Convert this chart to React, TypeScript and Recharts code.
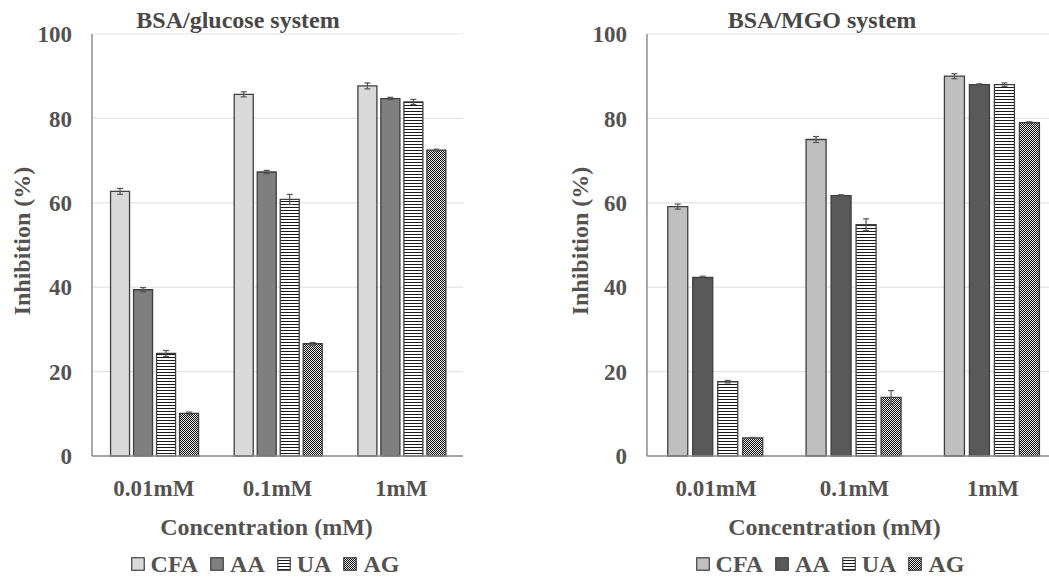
import { BarChart, Bar, XAxis, YAxis, CartesianGrid, ErrorBar, Label } from 'recharts';

const categories = ['0.01mM', '0.1mM', '1mM'];
const yTicks = [0, 20, 40, 60, 80, 100];
const seriesNames = ['CFA', 'AA', 'UA', 'AG'];

// BSA/glucose system
const glucoseCFA = [62.7, 85.7, 87.7];
const glucoseAA = [39.4, 67.3, 84.7];
const glucoseUA = [24.3, 60.8, 83.9];
const glucoseAG = [10.1, 26.6, 72.5];
const glucoseCFAErr = [0.7, 0.6, 0.7];
const glucoseAAErr = [0.5, 0.4, 0.3];
const glucoseUAErr = [0.7, 1.2, 0.6];
const glucoseAGErr = [0.3, 0.3, 0.2];

// BSA/MGO system
const mgoCFA = [59.1, 75.0, 90.0];
const mgoAA = [42.3, 61.7, 88.0];
const mgoUA = [17.6, 54.8, 88.0];
const mgoAG = [4.3, 13.9, 79.0];
const mgoCFAErr = [0.6, 0.7, 0.6];
const mgoAAErr = [0.3, 0.2, 0.2];
const mgoUAErr = [0.3, 1.4, 0.4];
const mgoAGErr = [0.1, 1.6, 0.2];

const FONT = '"Liberation Serif", "Times New Roman", serif';
const TEXT = '#555250';
const OUTLINE = '#3f3f3f';
const TICK_SIZE = 23;
const LABEL_SIZE = 24;

const buildRows = (vals: number[][], errs: number[][]) =>
  categories.map((c, i) => {
    const row: Record<string, string | number> = { cat: c };
    seriesNames.forEach((s, k) => {
      row[s] = vals[k][i];
      row[s + 'Err'] = errs[k][i];
    });
    return row;
  });

const glucoseRows = buildRows(
  [glucoseCFA, glucoseAA, glucoseUA, glucoseAG],
  [glucoseCFAErr, glucoseAAErr, glucoseUAErr, glucoseAGErr],
);
const mgoRows = buildRows(
  [mgoCFA, mgoAA, mgoUA, mgoAG],
  [mgoCFAErr, mgoAAErr, mgoUAErr, mgoAGErr],
);

const Patterns = () => (
  <svg width={0} height={0} style={{ position: 'absolute' }}>
    <defs>
      <pattern id="stripes" width={4} height={3} patternUnits="userSpaceOnUse">
        <rect width={4} height={3} fill="#fff" />
        <rect width={4} height={1} fill="#1a1a1a" />
      </pattern>
      <pattern id="checker" width={2} height={2} patternUnits="userSpaceOnUse">
        <rect width={2} height={2} fill="#e6e6e6" />
        <rect width={1} height={1} fill="#111" />
        <rect x={1} y={1} width={1} height={1} fill="#111" />
      </pattern>
    </defs>
  </svg>
);

type PanelProps = {
  rows: Record<string, string | number>[];
  fills: string[];
  width: number;
  yAxisWidth: number;
  barGap: number;
  labelX: number;
  xLabelDx: number;
};

const Panel = ({ rows, fills, width, yAxisWidth, barGap, labelX, xLabelDx }: PanelProps) => (
  <BarChart
    width={width}
    height={577}
    data={rows}
    margin={{ top: 34, right: 0, bottom: 0, left: 0 }}
    barCategoryGap="15%"
    barGap={barGap}
  >
    <CartesianGrid vertical={false} stroke="#e3e3e3" strokeWidth={1.2} />
    <XAxis
      dataKey="cat"
      height={121}
      tickLine={false}
      tickSize={0}
      tickMargin={24}
      axisLine={{ stroke: '#8c8c8c', strokeWidth: 1.5 }}
      tick={{ fill: TEXT, fontSize: TICK_SIZE, fontWeight: 700, fontFamily: FONT }}
    >
      <Label
        value="Concentration (mM)"
        position="insideBottom"
        offset={42}
        dx={xLabelDx}
        fill={TEXT}
        fontSize={LABEL_SIZE}
        fontWeight={700}
        fontFamily={FONT}
      />
    </XAxis>
    <YAxis
      width={yAxisWidth}
      domain={[0, 100]}
      ticks={yTicks}
      interval={0}
      tickLine={false}
      tickSize={0}
      tickMargin={20}
      axisLine={{ stroke: '#8c8c8c', strokeWidth: 1.5 }}
      tick={{ fill: TEXT, fontSize: TICK_SIZE, fontWeight: 700, fontFamily: FONT }}
    >
      <Label
        content={({ viewBox }: any) => (
          <text
            transform={`translate(${labelX}, ${(viewBox?.y ?? 0) + (viewBox?.height ?? 0) / 2 - 4}) rotate(-90)`}
            textAnchor="middle"
            fill={TEXT}
            fontSize={LABEL_SIZE}
            fontWeight={700}
            fontFamily={FONT}
          >
            Inhibition (%)
          </text>
        )}
      />
    </YAxis>
    {seriesNames.map((s, k) => (
      <Bar
        key={s}
        dataKey={s}
        fill={fills[k]}
        stroke={OUTLINE}
        strokeWidth={1.3}
        isAnimationActive={false}
      >
        <ErrorBar dataKey={s + 'Err'} width={3} stroke="#555" strokeWidth={1.2} />
      </Bar>
    ))}
  </BarChart>
);

const LegendRow = ({ fills, center }: { fills: string[]; center: number }) => (
  <div
    style={{
      position: 'absolute',
      left: center - 200,
      width: 400,
      top: 551,
      display: 'flex',
      justifyContent: 'center',
      alignItems: 'center',
      gap: 12,
      fontFamily: FONT,
      fontWeight: 700,
      fontSize: LABEL_SIZE,
      color: TEXT,
      lineHeight: '26px',
    }}
  >
    {seriesNames.map((s, k) => (
      <div key={s} style={{ display: 'flex', alignItems: 'center', gap: 6 }}>
        <svg width={14} height={14}>
          <rect x={0.75} y={0.75} width={12.5} height={12.5} fill={fills[k]} stroke={OUTLINE} strokeWidth={1.2} />
        </svg>
        <span>{s}</span>
      </div>
    ))}
  </div>
);

const Title = ({ text, center }: { text: string; center: number }) => (
  <div
    style={{
      position: 'absolute',
      left: center - 150,
      width: 300,
      top: 7,
      textAlign: 'center',
      fontFamily: FONT,
      fontWeight: 700,
      fontSize: LABEL_SIZE,
      lineHeight: '26px',
      color: '#4a4846',
    }}
  >
    {text}
  </div>
);

const leftFills = ['#d9d9d9', '#7f7f7f', 'url(#stripes)', 'url(#checker)'];
const rightFills = ['#bfbfbf', '#595959', 'url(#stripes)', 'url(#checker)'];

export default function App() {
  return (
    <div
      style={{
        position: 'absolute',
        left: 0,
        top: 0,
        width: 1049,
        height: 577,
        overflow: 'hidden',
        background: '#fff',
      }}
    >
      <Patterns />
      <div style={{ position: 'absolute', left: 0, top: 0 }}>
        <Panel
          rows={glucoseRows}
          fills={leftFills}
          width={463}
          yAxisWidth={92}
          barGap={4}
          labelX={30}
          xLabelDx={-11}
        />
      </div>
      <div style={{ position: 'absolute', left: 555, top: 0 }}>
        <Panel
          rows={mgoRows}
          fills={rightFills}
          width={507}
          yAxisWidth={92}
          barGap={5}
          labelX={33}
          xLabelDx={-20}
        />
      </div>
      <Title text="BSA/glucose system" center={238} />
      <Title text="BSA/MGO system" center={822} />
      <LegendRow fills={leftFills} center={265} />
      <LegendRow fills={rightFills} center={830} />
    </div>
  );
}
